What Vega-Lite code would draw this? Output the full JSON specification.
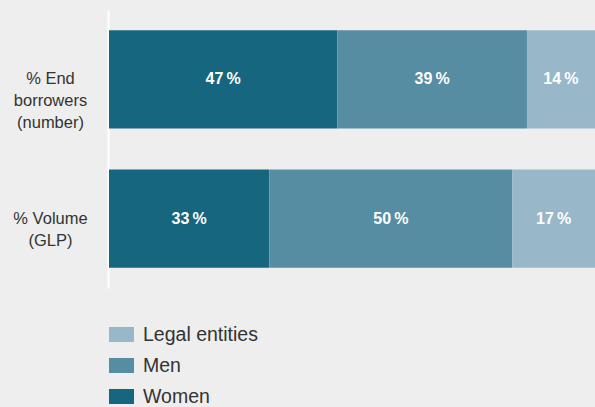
{
  "$schema": "https://vega.github.io/schema/vega-lite/v6.json",
  "width": 486,
  "height": 278,
  "autosize": {"type": "none"},
  "padding": {"left": 109, "top": 10, "right": 0, "bottom": 119},
  "background": "#eeeeee",
  "config": {
    "view": {"stroke": null},
    "font": "Liberation Sans"
  },
  "data": {
    "values": [
      {"measure": "% End|borrowers|(number)", "group": "Women", "value": 47},
      {"measure": "% End|borrowers|(number)", "group": "Men", "value": 39},
      {"measure": "% End|borrowers|(number)", "group": "Legal entities", "value": 14},
      {"measure": "% Volume|(GLP)", "group": "Women", "value": 33},
      {"measure": "% Volume|(GLP)", "group": "Men", "value": 50},
      {"measure": "% Volume|(GLP)", "group": "Legal entities", "value": 17}
    ]
  },
  "transform": [
    {"stack": "value", "groupby": ["measure"], "sort": [{"field": "group", "order": "descending"}], "as": ["x0", "x1"]},
    {"calculate": "(datum.x0 + datum.x1) / 2", "as": "mid"},
    {"calculate": "datum.value + '\u2009%'", "as": "lab"}
  ],
  "encoding": {
    "y": {
      "field": "measure",
      "type": "nominal",
      "sort": null,
      "scale": {"paddingInner": 0.293, "paddingOuter": 0.145},
      "axis": {
        "title": null,
        "ticks": false,
        "tickSize": 0,
        "offset": 1,
        "domainColor": "#ffffff",
        "domainWidth": 2,
        "labelExpr": "split(datum.value, '|')",
        "labelAlign": "center",
        "labelBaseline": "middle",
        "labelPadding": 58,
        "labelFontSize": 16.5,
        "labelLineHeight": 22,
        "labelColor": "#333333",
        "labelFont": "Liberation Sans"
      }
    }
  },
  "layer": [
    {
      "mark": {"type": "bar"},
      "encoding": {
        "x": {"field": "x0", "type": "quantitative", "scale": {"domain": [0, 100], "nice": false}, "axis": null},
        "x2": {"field": "x1"},
        "color": {
          "field": "group",
          "type": "nominal",
          "scale": {"domain": ["Legal entities", "Men", "Women"], "range": ["#98b8c9", "#578da2", "#166680"]},
          "legend": {
            "title": null,
            "orient": "none",
            "legendX": 0,
            "legendY": 312,
            "symbolType": "M-1,-0.6H1V0.6H-1Z",
            "symbolSize": 625,
            "symbolStrokeWidth": 0,
            "labelFontSize": 19.5,
            "labelColor": "#333333",
            "labelFont": "Liberation Sans",
            "labelOffset": 9,
            "rowPadding": 9
          }
        }
      }
    },
    {
      "mark": {"type": "text", "color": "#ffffff", "fontWeight": "bold", "fontSize": 16},
      "encoding": {
        "x": {"field": "mid", "type": "quantitative"},
        "text": {"field": "lab"}
      }
    }
  ]
}
